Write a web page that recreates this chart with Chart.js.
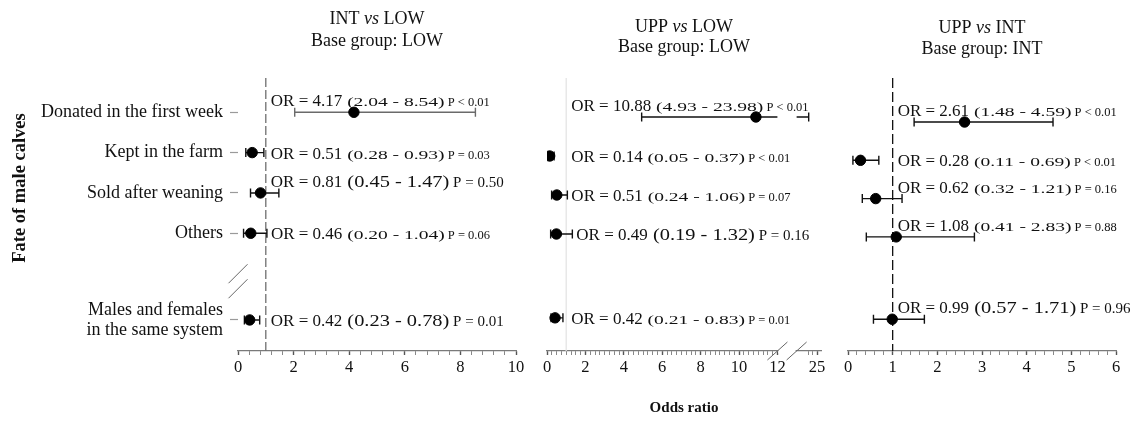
<!DOCTYPE html>
<html>
<head>
<meta charset="utf-8">
<title>Fate of male calves - odds ratios</title>
<script src="https://cdn.jsdelivr.net/npm/chart.js@4.4.0/dist/chart.umd.min.js"></script>
<style>
  body { margin: 0; background: #fff; }
  #wrap { position: relative; width: 1137px; height: 421px; overflow: hidden; }
  canvas { position: absolute; top: 0; }
</style>
</head>
<body>
<div id="wrap">
  <canvas id="c1" width="530" height="421" style="left:0"></canvas>
  <canvas id="c2" width="305" height="421" style="left:530px"></canvas>
  <canvas id="c3" width="302" height="421" style="left:835px"></canvas>
</div>
<script>
// rows (same order in every panel)
const categories = ['Donated in the first week', 'Kept in the farm', 'Sold after weaning', 'Others',
                    ['Males and females', 'in the same system']];

// INT vs LOW
const intLowOR = [4.17, 0.51, 0.81, 0.46, 0.42];
const intLowLo = [2.04, 0.28, 0.45, 0.20, 0.23];
const intLowHi = [8.54, 0.93, 1.47, 1.04, 0.78];
const intLowP  = ['P < 0.01', 'P = 0.03', 'P = 0.50', 'P = 0.06', 'P = 0.01'];

// UPP vs LOW
const uppLowOR = [10.88, 0.14, 0.51, 0.49, 0.42];
const uppLowLo = [4.93, 0.05, 0.24, 0.19, 0.21];
const uppLowHi = [23.98, 0.37, 1.06, 1.32, 0.83];
const uppLowP  = ['P < 0.01', 'P < 0.01', 'P = 0.07', 'P = 0.16', 'P = 0.01'];

// UPP vs INT
const uppIntOR = [2.61, 0.28, 0.62, 1.08, 0.99];
const uppIntLo = [1.48, 0.11, 0.32, 0.41, 0.57];
const uppIntHi = [4.59, 0.69, 1.21, 2.83, 1.71];
const uppIntP  = ['P < 0.01', 'P < 0.01', 'P = 0.16', 'P = 0.88', 'P = 0.96'];

// x tick labels
const intLowTicks = [0, 2, 4, 6, 8, 10];
const uppLowTicks = [0, 2, 4, 6, 8, 10, 12, 25];
const uppIntTicks = [0, 1, 2, 3, 4, 5, 6];

const FONT = '"Liberation Serif", "Times New Roman", serif';

// row 5 sits lower, after the break
const rowY = i => (i < 4 ? i + 1 : 6.15);

// broken axis of the middle panel: 0-12, then a short piece around 25
const noBreak = v => v;
const brk = v => (v <= 12 ? v : 13 + (v - 22.5) * 0.425);

const panels = [
  {
    canvas: 'c1', title: ['INT ', 'vs', ' LOW'], base: 'Base group: LOW', titleY: [24, 46],
    or: intLowOR, lo: intLowLo, hi: intLowHi, p: intLowP, major: intLowTicks,
    steps: [[0, 10, 0.4]], tf: noBreak, xMax: 10, yMin: 0.15, yMax: 6.92,
    pad: { left: 0, right: 14 }, ref: { color: '#6f6f6f', dash: [9, 3] },
    bigCI: [2, 4], greyBar: [0], showY: true
  },
  {
    canvas: 'c2', title: ['UPP ', 'vs', ' LOW'], base: 'Base group: LOW', titleY: [32, 52],
    or: uppLowOR, lo: uppLowLo, hi: uppLowHi, p: uppLowP, major: uppLowTicks,
    steps: [[0, 12, 0.25], [24, 25, 0.5]], tf: brk, xMax: 14.27, yMin: 0, yMax: 7.0,
    pad: { left: 17, right: 14 }, ref: { color: '#e4e4e4', dash: [] },
    bigCI: [3], greyBar: [], breakAt: [12, 13], xTitle: 'Odds ratio'
  },
  {
    canvas: 'c3', title: ['UPP ', 'vs', ' INT'], base: 'Base group: INT', titleY: [33, 54],
    or: uppIntOR, lo: uppIntLo, hi: uppIntHi, p: uppIntP, major: uppIntTicks,
    steps: [[0, 6, 0.2]], tf: noBreak, xMax: 6, yMin: -0.15, yMax: 6.98,
    pad: { left: 13, right: 21 }, ref: { color: '#111', dash: [10, 4] },
    bigCI: [4], greyBar: []
  }
];

function buildTicks(pn) {
  const list = [];
  pn.steps.forEach(([a, b, st]) => {
    const n = Math.round((b - a) / st);
    for (let k = 0; k <= n; k++) {
      const v = +(a + k * st).toFixed(3);
      list.push({ v: v, d: pn.tf(v), label: pn.major.includes(v) ? String(v) : '' });
    }
  });
  return list;
}

function seg(ctx, text, x, y, size, sx, style) {
  ctx.save();
  ctx.font = (style || '') + ' ' + size + 'px ' + FONT;
  ctx.translate(x, y);
  ctx.scale(sx, 1);
  ctx.fillText(text, 0, 0);
  const w = ctx.measureText(text).width * sx;
  ctx.restore();
  return w;
}

// one plugin per panel, the panel kept in the closure
function forestPlugin(pn) {
  return {
    id: 'forest',
    beforeDatasetsDraw(chart) {
      const ctx = chart.ctx, ca = chart.chartArea;
      const xs = chart.scales.x, ys = chart.scales.y;
      const px = v => xs.getPixelForValue(pn.tf(v));

      // reference line at OR = 1
      ctx.save();
      ctx.strokeStyle = pn.ref.color;
      ctx.lineWidth = 1.3;
      ctx.setLineDash(pn.ref.dash);
      ctx.beginPath();
      ctx.moveTo(px(1), ca.top);
      ctx.lineTo(px(1), ca.bottom);
      ctx.stroke();
      ctx.restore();

      // confidence intervals
      ctx.save();
      ctx.lineWidth = 1.4;
      pn.or.forEach((o, i) => {
        const y = ys.getPixelForValue(rowY(i));
        const x1 = px(pn.lo[i]), x2 = px(pn.hi[i]);
        ctx.strokeStyle = pn.greyBar.includes(i) ? '#6a6a6a' : '#111';
        ctx.beginPath();
        if (pn.breakAt && pn.hi[i] > 12) {
          ctx.moveTo(x1, y); ctx.lineTo(xs.getPixelForValue(pn.breakAt[0]), y);
          ctx.moveTo(xs.getPixelForValue(pn.breakAt[1]), y); ctx.lineTo(x2, y);
        } else {
          ctx.moveTo(x1, y); ctx.lineTo(x2, y);
        }
        ctx.moveTo(x1, y - 4.5); ctx.lineTo(x1, y + 4.5);
        ctx.moveTo(x2, y - 4.5); ctx.lineTo(x2, y + 4.5);
        ctx.stroke();
      });
      ctx.restore();
    },
    afterDraw(chart) {
      const ctx = chart.ctx, ca = chart.chartArea;
      const xs = chart.scales.x, ys = chart.scales.y;
      const px = v => xs.getPixelForValue(pn.tf(v));
      const cx = (ca.left + ca.right) / 2;

      ctx.save();
      ctx.fillStyle = '#111';
      ctx.textBaseline = 'alphabetic';

      // panel title, "vs" in italics
      ctx.font = '18px ' + FONT;
      const w0 = ctx.measureText(pn.title[0]).width, w2 = ctx.measureText(pn.title[2]).width;
      ctx.font = 'italic 18px ' + FONT;
      const w1 = ctx.measureText(pn.title[1]).width;
      let tx = cx - (w0 + w1 + w2) / 2;
      tx += seg(ctx, pn.title[0], tx, pn.titleY[0], 18, 1);
      tx += seg(ctx, pn.title[1], tx, pn.titleY[0], 18, 1, 'italic');
      seg(ctx, pn.title[2], tx, pn.titleY[0], 18, 1);
      ctx.textAlign = 'center';
      ctx.font = '18px ' + FONT;
      ctx.fillText(pn.base, cx, pn.titleY[1]);
      ctx.textAlign = 'left';

      // OR (CI) P annotations
      const refPx = px(1);
      pn.or.forEach((o, i) => {
        const y = ys.getPixelForValue(rowY(i));
        const hiPx = px(pn.hi[i]);
        const raise = hiPx > refPx + 8;
        let x = raise ? refPx + 5 : Math.max(refPx + 5, hiPx + 4);
        const by = y + 6 - (raise ? 12 : 0);
        const big = pn.bigCI.includes(i);
        x += seg(ctx, 'OR = ' + o.toFixed(2), x, by, 17, 1);
        x += seg(ctx, ' (' + pn.lo[i].toFixed(2) + ' - ' + pn.hi[i].toFixed(2) + ')', x, by,
                 big ? 17 : 13, big ? 1.2 : 1.5);
        seg(ctx, ' ' + pn.p[i], x, by, big ? 15 : 12.5, 1);
      });

      ctx.strokeStyle = '#666';
      ctx.lineWidth = 1;
      // break marks on the x axis
      if (pn.breakAt) {
        const b1 = xs.getPixelForValue(pn.breakAt[0]), b2 = xs.getPixelForValue(pn.breakAt[1]);
        ctx.fillStyle = '#fff';
        ctx.fillRect(b1 + 1, ca.bottom - 2, b2 - b1 - 2, 4);
        ctx.beginPath();
        [b1, b2].forEach(b => { ctx.moveTo(b - 10, ca.bottom + 9); ctx.lineTo(b + 10, ca.bottom - 9); });
        ctx.stroke();
        ctx.fillStyle = '#111';
      }

      // break marks on the y axis + axis titles
      if (pn.showY) {
        const yb = ys.getPixelForValue(5.19);
        ctx.beginPath();
        [-7.5, 7.5].forEach(d => { ctx.moveTo(ca.left - 9.5, yb + d + 9.5); ctx.lineTo(ca.left + 9.5, yb + d - 9.5); });
        ctx.stroke();

        ctx.save();
        ctx.translate(20, 188);
        ctx.rotate(-Math.PI / 2);
        ctx.textAlign = 'center';
        ctx.textBaseline = 'middle';
        ctx.font = 'bold 18.5px ' + FONT;
        ctx.fillText('Fate of male calves', 0, 0);
        ctx.restore();
      }
      if (pn.xTitle) {
        ctx.textAlign = 'center';
        ctx.textBaseline = 'middle';
        ctx.font = 'bold 15px ' + FONT;
        ctx.fillText(pn.xTitle, cx, 408);
      }
      ctx.restore();
    }
  };
}

panels.forEach(pn => {
  const tickList = buildTicks(pn);
  new Chart(document.getElementById(pn.canvas), {
    type: 'scatter',
    data: {
      datasets: [{
        data: pn.or.map((o, i) => ({ x: pn.tf(o), y: rowY(i) })),
        backgroundColor: '#000',
        borderColor: '#000',
        pointRadius: 5.2,
        pointHoverRadius: 5.2
      }]
    },
    options: {
      responsive: false,
      animation: false,
      layout: { padding: { top: 78, bottom: 0, left: pn.pad.left, right: pn.pad.right } },
      plugins: {
        legend: { display: false },
        tooltip: { enabled: false }
      },
      scales: {
        x: {
          type: 'linear',
          min: 0,
          max: pn.xMax,
          afterBuildTicks: s => { s.ticks = tickList.map(t => ({ value: t.d })); },
          afterFit: s => { s.height = 70; },
          border: { display: true, color: '#7a7a7a', width: 1.2 },
          grid: {
            drawOnChartArea: false,
            tickLength: 4,
            tickColor: c => (tickList[c.index] && tickList[c.index].label ? '#555' : '#888'),
            tickWidth: c => (tickList[c.index] && tickList[c.index].label ? 1.4 : 1)
          },
          ticks: {
            autoSkip: false,
            maxRotation: 0,
            padding: 3,
            color: '#111',
            font: { family: FONT, size: 16.5 },
            callback: (v, i) => (tickList[i] ? tickList[i].label : '')
          }
        },
        y: {
          type: 'linear',
          reverse: true,
          min: pn.yMin,
          max: pn.yMax,
          display: !!pn.showY,
          afterBuildTicks: s => { s.ticks = categories.map((c, i) => ({ value: rowY(i) })); },
          afterFit: s => { s.width = pn.showY ? 238 : 0; },
          border: { display: false },
          grid: { drawOnChartArea: false, tickLength: 8, tickColor: '#9a9a9a', tickWidth: 1.2 },
          ticks: {
            padding: 7,
            color: '#111',
            font: { family: FONT, size: 18, lineHeight: 1.1 },
            callback: (v, i) => categories[i]
          }
        }
      }
    },
    plugins: [forestPlugin(pn)]
  });
});
</script>
</body>
</html>
